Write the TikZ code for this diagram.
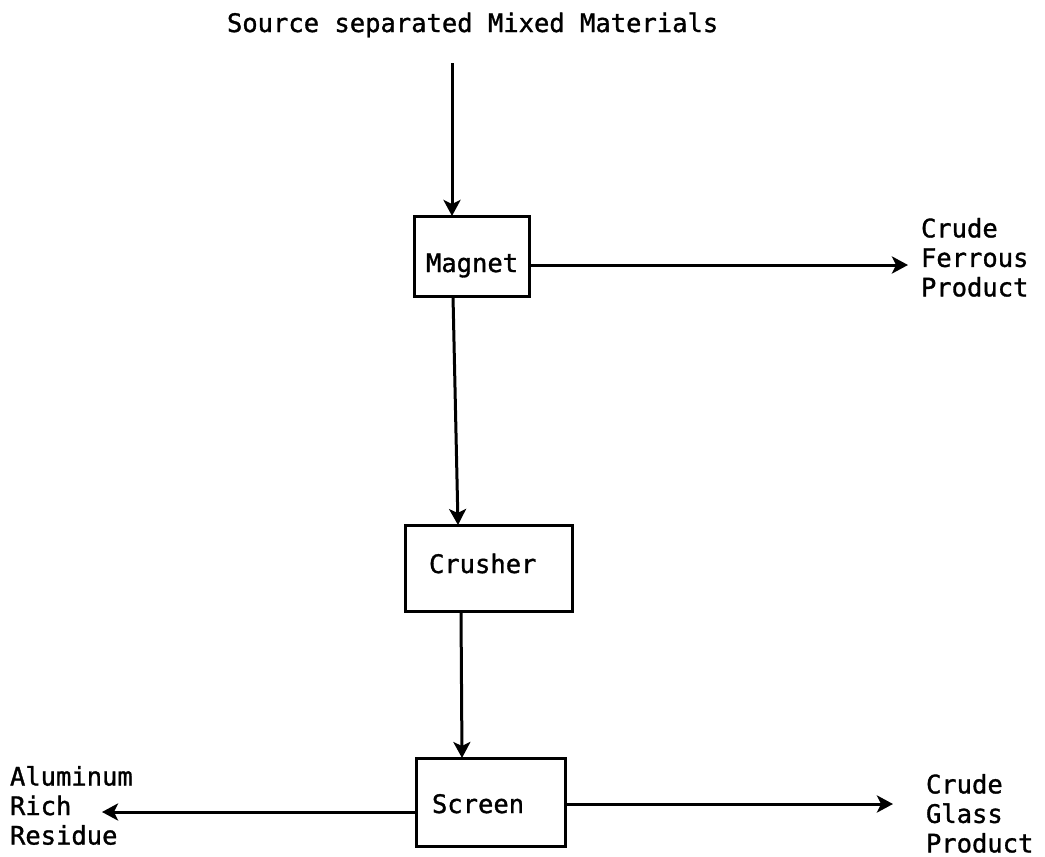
\documentclass[tikz,border=0pt]{standalone}
\usepackage{fontspec}
\setmainfont{DejaVu Sans Mono}
\newfontfamily\heavy{DejaVu Sans Mono}[FakeBold=1.2]
\usetikzlibrary{arrows.meta,calc}
\begin{document}
\begin{tikzpicture}[x=1pt,y=-1pt,
  every node/.style={font=\heavy\fontsize{25.5}{29.5}\selectfont, inner sep=0pt, outer sep=0pt},
  box/.style={draw, line width=3pt, align=left, anchor=north west},
  lbl/.style={align=left, anchor=north west},
  flow/.style={line width=3pt, -{Stealth[length=16pt,width=17pt,inset=4pt]}}]
\useasboundingbox (0,0) rectangle (1045,857);
\fill[white] (0,0) rectangle (1045,857);

\node[anchor=base west] (title) at (227,32) {Source separated Mixed Materials};
\coordinate (src) at (452,63);

\node[box, text width=115pt, text height=56pt, text depth=24pt] (magnet) at (414,216) {\noindent\hspace*{12pt}Magnet};
\node[box, text width=167pt, text height=48pt, text depth=38pt] (crusher) at (405,525) {\noindent\hspace*{24pt}Crusher};
\node[box, text width=149pt, text height=55pt, text depth=33pt] (screen) at (416,758) {\noindent\hspace*{16pt}Screen};

\node[lbl] (ferrous) at (921,218) {Crude\\Ferrous\\Product};
\node[lbl] (glass) at (926,774) {Crude\\Glass\\Product};
\node[lbl] (alu) at (10,766) {Aluminum\\Rich\\Residue};
\coordinate (alutip) at (102,812);

\draw[flow] (src) -- (src |- magnet.north);
\draw[flow] ($(magnet.south west)+(39,0)$) -- ($(crusher.north west)+(53,0)$);
\draw[flow] ($(crusher.south west)+(56,0)$) -- ($(screen.north west)+(46,0)$);
\draw[flow, shorten >=13pt] ($(magnet.north east)+(0,49)$) coordinate (m1) -- (m1 -| ferrous.west);
\draw[flow] ($(screen.north west)+(0,54)$) -- (alutip);
\draw[flow, shorten >=33pt] ($(screen.north east)+(0,46)$) coordinate (s2) -- (s2 -| glass.west);
\end{tikzpicture}
\end{document}
